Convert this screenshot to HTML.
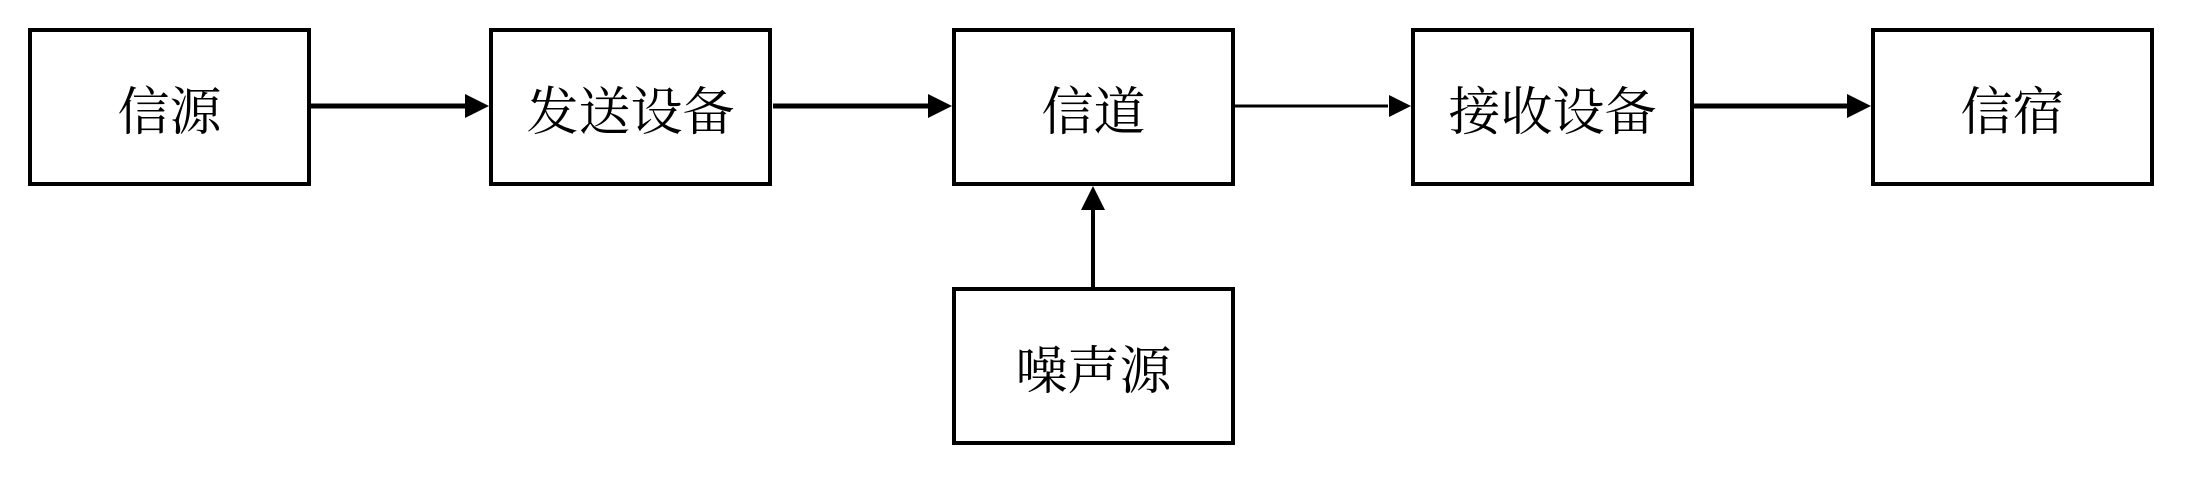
<!DOCTYPE html>
<html><head><meta charset="utf-8"><style>
html,body{margin:0;padding:0;background:#fff;}
body{width:2205px;height:489px;position:relative;overflow:hidden;}
.b{position:absolute;box-sizing:border-box;border:4px solid #000;width:283px;height:158px;display:flex;align-items:center;justify-content:center;font-family:"Liberation Serif","Noto Serif CJK SC",serif;font-size:52px;color:#000;}
</style></head><body>
<div class="b" style="left:28px;top:28px">信源</div>
<div class="b" style="left:489px;top:28px">发送设备</div>
<div class="b" style="left:952px;top:28px">信道</div>
<div class="b" style="left:1411px;top:28px">接收设备</div>
<div class="b" style="left:1871px;top:28px">信宿</div>
<div class="b" style="left:952px;top:287px">噪声源</div>
<svg width="2205" height="489" style="position:absolute;left:0;top:0">
<g fill="#000" stroke="#000">
<line x1="311" y1="106" x2="466" y2="106" stroke-width="5"/><polygon points="465,94 489,106 465,118" stroke="none"/>
<line x1="773" y1="106" x2="929" y2="106" stroke-width="5"/><polygon points="928,94 952,106 928,118" stroke="none"/>
<line x1="1233" y1="106" x2="1388" y2="106" stroke-width="3"/><polygon points="1389,95 1411,106 1389,117" stroke="none"/>
<line x1="1694" y1="106" x2="1848" y2="106" stroke-width="5"/><polygon points="1847,94 1871,106 1847,118" stroke="none"/>
<line x1="1093" y1="287" x2="1093" y2="208" stroke-width="4"/><polygon points="1081,210 1093,186 1105,210" stroke="none"/>
</g></svg>
</body></html>
